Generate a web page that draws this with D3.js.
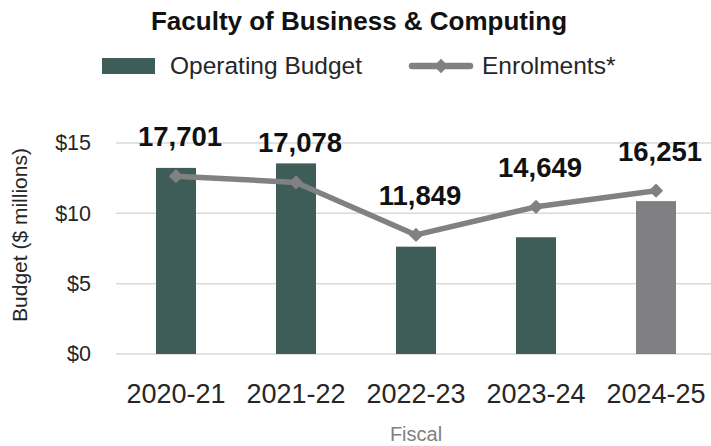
<!DOCTYPE html>
<html>
<head>
<meta charset="utf-8">
<script src="https://cdn.jsdelivr.net/npm/d3@7"></script>
<style>
  body { margin: 0; background: #fff; }
  svg { display: block; font-family: "Liberation Sans", Arial, sans-serif; }
</style>
</head>
<body>
<svg id="chart" width="711" height="446"></svg>
<script>
const years = ["2020-21", "2021-22", "2022-23", "2023-24", "2024-25"];
const budget = [13.23, 13.55, 7.63, 8.3, 10.87];   // $ millions
const enrolments = [17701, 17078, 11849, 14649, 16251];
const budgetTicks = [0, 5, 10, 15];

const green = "#3e5c58";
const grey = "#808083";
const lineGrey = "#818181";

const svg = d3.select("#chart");
const margin = { left: 116, right: 716, top: 143, bottom: 354 };

const x = d3.scaleBand()
  .domain(years)
  .range([margin.left, margin.right])
  .paddingInner(2 / 3)
  .paddingOuter(1 / 3);

const y = d3.scaleLinear().domain([0, 15]).range([margin.bottom, margin.top]);
// hidden secondary axis for enrolments
const y2 = d3.scaleLinear().domain([0, 21000]).range([margin.bottom, margin.top]);

// gridlines
svg.append("g")
  .selectAll("line")
  .data(budgetTicks)
  .join("line")
  .attr("x1", margin.left)
  .attr("x2", 711)
  .attr("y1", d => y(d))
  .attr("y2", d => y(d))
  .attr("stroke", "#d9d9d9")
  .attr("stroke-width", 1.5);

// y axis labels
const yAxis = svg.append("g")
  .attr("transform", `translate(${margin.left - 25},0)`)
  .call(d3.axisLeft(y).tickValues(budgetTicks).tickFormat(d => "$" + d).tickSize(0).tickPadding(0));
yAxis.select(".domain").remove();
yAxis.selectAll("text")
  .attr("font-size", 21.5)
  .attr("fill", "#262626")
  .attr("font-family", "Liberation Sans, Arial, sans-serif");

// bars
svg.append("g")
  .selectAll("rect")
  .data(years)
  .join("rect")
  .attr("x", d => x(d))
  .attr("width", x.bandwidth())
  .attr("y", (d, i) => y(budget[i]))
  .attr("height", (d, i) => y(0) - y(budget[i]))
  .attr("fill", (d, i) => i === years.length - 1 ? grey : green);

// enrolment line
const cx = d => x(d) + x.bandwidth() / 2;
const line = d3.line()
  .x((d, i) => cx(years[i]))
  .y(d => y2(d));

svg.append("path")
  .datum(enrolments)
  .attr("d", line)
  .attr("fill", "none")
  .attr("stroke", lineGrey)
  .attr("stroke-width", 5.5)
  .attr("stroke-linejoin", "round");

const diamond = d3.symbol().type(d3.symbolDiamond2).size(130);
svg.append("g")
  .selectAll("path")
  .data(enrolments)
  .join("path")
  .attr("d", diamond)
  .attr("transform", (d, i) => `translate(${cx(years[i])},${y2(d)})`)
  .attr("fill", lineGrey);

// enrolment labels
svg.append("g")
  .selectAll("text")
  .data(enrolments)
  .join("text")
  .attr("x", (d, i) => cx(years[i]) + 4)
  .attr("y", d => y2(d) - 30)
  .attr("text-anchor", "middle")
  .attr("font-size", 27.5)
  .attr("font-weight", "bold")
  .attr("fill", "#111")
  .text(d => d3.format(",")(d));

// x axis labels
const xAxis = svg.append("g")
  .attr("transform", `translate(0,${margin.bottom})`)
  .call(d3.axisBottom(x).tickSize(0).tickPadding(0));
xAxis.select(".domain").remove();
xAxis.selectAll("text")
  .attr("dy", 0)
  .attr("y", 49)
  .attr("font-size", 27)
  .attr("fill", "#262626")
  .attr("font-family", "Liberation Sans, Arial, sans-serif");

// axis titles
svg.append("text")
  .attr("x", (margin.left + margin.right) / 2)
  .attr("y", 441)
  .attr("text-anchor", "middle")
  .attr("font-size", 20)
  .attr("fill", "#7f7f7f")
  .text("Fiscal");

svg.append("text")
  .attr("transform", "translate(27,235) rotate(-90)")
  .attr("text-anchor", "middle")
  .attr("font-size", 21)
  .attr("fill", "#262626")
  .text("Budget ($ millions)");

// title
svg.append("text")
  .attr("x", 359)
  .attr("y", 29.5)
  .attr("text-anchor", "middle")
  .attr("font-size", 26)
  .attr("font-weight", "bold")
  .attr("fill", "#111")
  .text("Faculty of Business & Computing");

// legend
const legend = svg.append("g");
legend.append("rect")
  .attr("x", 102).attr("y", 58)
  .attr("width", 53).attr("height", 16)
  .attr("fill", green);
legend.append("text")
  .attr("x", 170).attr("y", 74)
  .attr("font-size", 24.5)
  .attr("fill", "#262626")
  .text("Operating Budget");
legend.append("line")
  .attr("x1", 412).attr("x2", 470)
  .attr("y1", 66).attr("y2", 66)
  .attr("stroke", lineGrey)
  .attr("stroke-width", 6.5)
  .attr("stroke-linecap", "round");
legend.append("path")
  .attr("d", diamond)
  .attr("transform", "translate(441,66)")
  .attr("fill", lineGrey);
legend.append("text")
  .attr("x", 482).attr("y", 74)
  .attr("font-size", 24.5)
  .attr("fill", "#262626")
  .text("Enrolments*");
</script>
</body>
</html>
